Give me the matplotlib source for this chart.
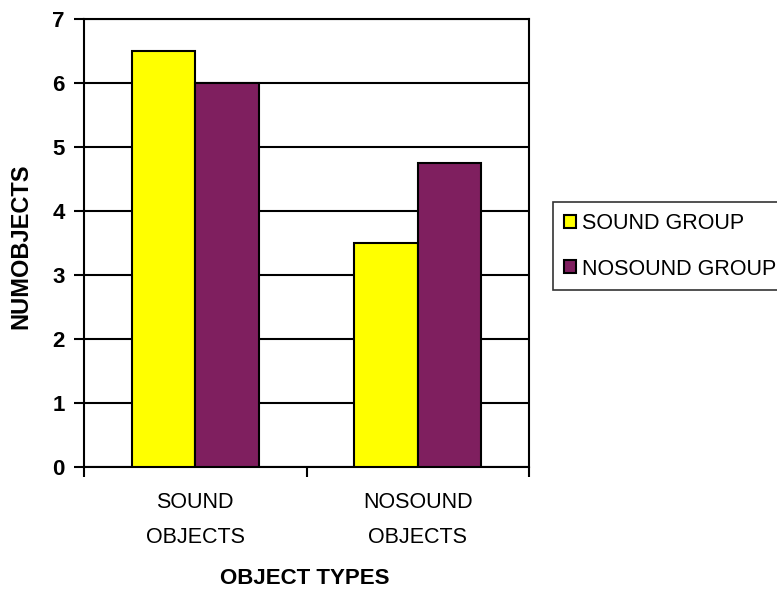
import matplotlib
matplotlib.use("Agg")
import matplotlib.pyplot as plt
import numpy as np

# Data
categories = ["SOUND\nOBJECTS", "NOSOUND\nOBJECTS"]
series_names = ["SOUND GROUP", "NOSOUND GROUP"]
sound_group = [6.5, 3.5]
nosound_group = [6.0, 4.75]
y_ticks = [0, 1, 2, 3, 4, 5, 6, 7]

colors = ["#FFFF00", "#7F1F5F"]

plt.rcParams["font.family"] = ["Liberation Sans", "DejaVu Sans"]

fig = plt.figure(figsize=(7.77, 5.90), dpi=100)
ax = fig.add_axes([84 / 777, 1 - 467 / 590, (529 - 84) / 777, (467 - 19) / 590])

x = np.arange(len(categories))
width = 1 / 3.5
for i, (vals, name) in enumerate(zip([sound_group, nosound_group], series_names)):
    ax.bar(x + (i - 0.5) * width, vals, width, color=colors[i], edgecolor="black",
           linewidth=1.5, label=name, zorder=3)

ax.set_xlim(-0.5, len(categories) - 0.5)
ax.set_ylim(0, 7)

# gridlines
ax.set_yticks(y_ticks)
ax.yaxis.grid(True, color="black", linewidth=1.5, zorder=1)
ax.set_axisbelow(True)
ax.tick_params(axis="y", direction="out", length=7, width=1.5, pad=7)
for lab in ax.get_yticklabels():
    lab.set_fontweight("bold")
    lab.set_fontsize(16)

# category boundary ticks + centered labels
ax.set_xticks(np.arange(len(categories) + 1) - 0.5)
ax.set_xticklabels([])
ax.tick_params(axis="x", which="major", direction="out", length=7, width=1.5)
ax.set_xticks(x, minor=True)
ax.set_xticklabels(categories, minor=True, fontsize=15.5, linespacing=1.85)
ax.tick_params(axis="x", which="minor", length=0, pad=18)

for s in ax.spines.values():
    s.set_color("black")
    s.set_linewidth(1.5)

ax.set_xlabel("OBJECT TYPES", fontsize=16, fontweight="bold")
ax.set_ylabel("NUMOBJECTS", fontsize=17, fontweight="bold")
ax.yaxis.label.set_verticalalignment("center")
ax.xaxis.set_label_coords((305 - 84) / (529 - 84), -(568 - 467) / (467 - 19))
ax.yaxis.set_label_coords(-(84 - 21) / (529 - 84), (467 - 246) / (467 - 19))

leg = fig.legend(loc="upper left", bbox_to_anchor=(553 / 777, 1 - 202 / 590),
                 bbox_transform=fig.transFigure, borderaxespad=0, fontsize=15.5,
                 frameon=True, fancybox=False, edgecolor="black",
                 handlelength=0.55, handleheight=0.55, handletextpad=0.3,
                 labelspacing=1.15, borderpad=0.5)
leg.get_frame().set_linewidth(1.2)

fig.savefig("out.png", dpi=100)
